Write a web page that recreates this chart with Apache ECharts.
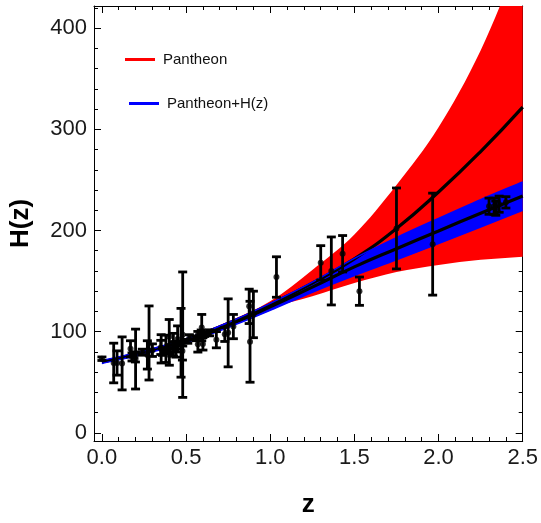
<!DOCTYPE html>
<html>
<head>
<meta charset="utf-8">
<script src="https://cdn.jsdelivr.net/npm/echarts@6/dist/echarts.min.js"></script>
<style>
html,body{margin:0;padding:0;background:#fff;}
#chart{width:541px;height:523px;}
</style>
</head>
<body>
<div id="chart"></div>
<script>
// ---- axis ticks ----
const xMajorTicks = [0, 0.5, 1.0, 1.5, 2.0, 2.5];
const xMinorTicks = [0.1,0.2,0.3,0.4,0.6,0.7,0.8,0.9,1.1,1.2,1.3,1.4,1.6,1.7,1.8,1.9,2.1,2.2,2.3,2.4];
const yMajorTicks = [0, 100, 200, 300, 400];
const yMinorTicks = [20,40,60,80,120,140,160,180,220,240,260,280,320,340,360,380,420];

// ---- model curves ----
const zGrid         = [0, 0.25, 0.5, 0.75, 1.0, 1.25, 1.5, 1.75, 2.0, 2.25, 2.5];
const pantheonMean  = [70, 80, 92, 108, 127, 148, 172, 202, 238, 278, 322];
const pantheonUpper = [70, 80.5, 93.5, 110, 130, 161, 196, 245, 302, 378, 477];
const pantheonLower = [70, 79.5, 90.5, 106, 123, 135, 148, 159, 166, 171, 174];
const jointMean     = [70, 79.5, 91, 106.5, 124.5, 144, 164, 182, 199.5, 217, 234];
const jointUpper    = [71.5, 81, 93, 109, 128, 149, 172.5, 193, 212, 230.5, 248];
const jointLower    = [68.5, 78, 89, 104, 121, 139, 155.5, 171, 187, 203.5, 220];

// ---- H(z) measurements ----
const hzZ   = [0, 0.07, 0.09, 0.12, 0.17, 0.179, 0.199, 0.2, 0.24, 0.27, 0.28, 0.3, 0.35, 0.352, 0.36, 0.38, 0.3802, 0.4, 0.4, 0.4004, 0.4247, 0.43, 0.44, 0.44, 0.4497, 0.47, 0.4783, 0.48, 0.48, 0.51, 0.52, 0.56, 0.57, 0.57, 0.59, 0.593, 0.6, 0.61, 0.64, 0.68, 0.73, 0.75, 0.781, 0.875, 0.88, 0.9, 1.037, 1.3, 1.363, 1.43, 1.53, 1.75, 1.965, 2.3, 2.33, 2.34, 2.36, 2.4];
const hzH   = [73.24, 69, 69, 68.6, 83, 75, 75, 72.9, 79.69, 77, 88.8, 81.7, 84.4, 83, 79.93, 81.5, 83, 95, 82.04, 77, 87.1, 86.45, 82.6, 84.81, 92.8, 89, 80.9, 97, 87.79, 90.4, 94.35, 93.34, 87.6, 96.8, 98.48, 104, 87.9, 97.3, 98.82, 92, 97.3, 98.8, 105, 125, 90, 117, 154, 168, 160, 177, 140, 202, 186.5, 224, 224, 222, 226, 227.8];
const hzErr = [1.74, 19.6, 12, 26.2, 8, 4, 5, 29.6, 2.99, 14, 36.6, 6.22, 7, 14, 3.39, 1.9, 13.5, 17, 2.03, 10.2, 11.2, 3.68, 7.8, 1.83, 12.9, 34, 9, 62, 2.03, 1.9, 2.64, 2.3, 7.8, 3.4, 3.18, 13, 6.1, 2.1, 2.98, 8, 7, 33.6, 12, 17, 40, 23, 20, 17, 33.6, 18, 14, 40, 50.4, 8, 8, 7, 8, 5.61];

const X_MIN = -0.047, X_MAX = 2.5, Y_MIN = -8.1, Y_MAX = 421.9;
const FONT = "'Liberation Sans', Arial, sans-serif";

const pairs = (xs, ys) => xs.map((x, i) => [x, ys[i]]);

// smooth cubic path segments through pixel points
function curveSegs(p) {
  let s = '';
  const n = p.length;
  const tan = i => {
    const a = p[Math.max(0, i - 1)], b = p[Math.min(n - 1, i + 1)];
    const k = (i === 0 || i === n - 1) ? 1 : 0.5;
    return [(b[0] - a[0]) * k, (b[1] - a[1]) * k];
  };
  for (let i = 0; i < n - 1; i++) {
    const m0 = tan(i), m1 = tan(i + 1);
    const c1 = [p[i][0] + m0[0] / 3, p[i][1] + m0[1] / 3];
    const c2 = [p[i + 1][0] - m1[0] / 3, p[i + 1][1] - m1[1] / 3];
    s += ' C' + c1[0] + ' ' + c1[1] + ' ' + c2[0] + ' ' + c2[1] + ' ' + p[i + 1][0] + ' ' + p[i + 1][1];
  }
  return s;
}
function bandSeries(name, lowArr, upArr, color, z) {
  return {
    name: name, type: 'custom', z: z, silent: true, clip: true,
    itemStyle: {color: color},
    data: zGrid.map((zz, i) => [zz, lowArr[i], upArr[i]]),
    encode: {x: 0, y: [1, 2]},
    renderItem: function (params, api) {
      if (params.dataIndex !== 0) return null;
      const up = zGrid.map((zz, i) => api.coord([zz, upArr[i]]));
      const lo = zGrid.map((zz, i) => api.coord([zz, lowArr[i]])).reverse();
      const d = 'M' + up[0][0] + ' ' + up[0][1] + curveSegs(up) +
        ' L' + lo[0][0] + ' ' + lo[0][1] + curveSegs(lo) + ' Z';
      return {type: 'path', shape: {pathData: d}, style: {fill: color, stroke: null}};
    }
  };
}
function edgeSeries(name, arrs, color, width, z) {
  return {
    name: name, type: 'custom', z: z, silent: true, clip: true,
    data: zGrid.map((zz, i) => [zz].concat(arrs.map(a => a[i]))),
    encode: {x: 0, y: arrs.map((a, k) => k + 1)},
    renderItem: function (params, api) {
      if (params.dataIndex !== 0) return null;
      return {type: 'group', children: arrs.map(a => {
        const pts = zGrid.map((zz, i) => api.coord([zz, a[i]]));
        return {type: 'path', shape: {pathData: 'M' + pts[0][0] + ' ' + pts[0][1] + curveSegs(pts)},
          style: {fill: null, stroke: color, lineWidth: width}};
      })};
    }
  };
}

function makeX(pos, ticks, len, showLine, showLabel, extra) {
  return Object.assign({
    type: 'value', position: pos, min: X_MIN, max: X_MAX,
    axisLine: {show: showLine, onZero: false, lineStyle: {color: '#000', width: 1}},
    axisTick: {show: true, inside: true, length: len, customValues: ticks, lineStyle: {color: '#000', width: 1}},
    axisLabel: showLabel ? {show: true, customValues: ticks, margin: 6, fontSize: 22, color: '#1a1a1a', fontFamily: FONT,
      formatter: v => Number(v).toFixed(1)} : {show: false},
    splitLine: {show: false}
  }, extra || {});
}
function makeY(pos, ticks, len, showLine, showLabel, extra) {
  return Object.assign({
    type: 'value', position: pos, min: Y_MIN, max: Y_MAX,
    axisLine: {show: showLine, onZero: false, lineStyle: {color: '#000', width: 1}},
    axisTick: {show: true, inside: true, length: len, customValues: ticks, lineStyle: {color: '#000', width: 1}},
    axisLabel: showLabel ? {show: true, customValues: ticks, margin: 7, fontSize: 22, color: '#1a1a1a', fontFamily: FONT,
      formatter: v => String(Math.round(v))} : {show: false},
    splitLine: {show: false}
  }, extra || {});
}

const chart = echarts.init(document.getElementById('chart'), null, {renderer: 'canvas'});
const option = {
  animation: false,
  backgroundColor: '#fff',
  grid: {left: 93, right: 15, top: 6, bottom: 78, containLabel: false},
  legend: [
    {left: 125, top: 52, padding: 0, orient: 'vertical', icon: 'rect', itemWidth: 30, itemHeight: 3,
     textStyle: {fontSize: 15, color: '#111', fontFamily: FONT, padding: [0, 0, 0, 3]},
     data: [{name: 'Pantheon', itemStyle: {color: '#ff0000', opacity: 1}}], selectedMode: false},
    {left: 129, top: 96, padding: 0, orient: 'vertical', icon: 'rect', itemWidth: 30, itemHeight: 3,
     textStyle: {fontSize: 15, color: '#111', fontFamily: FONT, padding: [0, 0, 0, 3]},
     data: [{name: 'Pantheon+H(z)', itemStyle: {color: '#0000ff', opacity: 1}}], selectedMode: false}
  ],
  xAxis: [
    makeX('bottom', xMajorTicks, 7, true, true, {name: 'z', nameLocation: 'middle', nameGap: 51,
      nameTextStyle: {fontSize: 26, fontWeight: 'bold', color: '#000', fontFamily: FONT}}),
    makeX('bottom', xMinorTicks, 4, false, false),
    makeX('top', xMajorTicks, 7, true, false),
    makeX('top', xMinorTicks, 4, false, false)
  ],
  yAxis: [
    makeY('left', yMajorTicks, 7, true, true, {name: 'H(z)', nameLocation: 'middle', nameGap: 60,
      nameTextStyle: {fontSize: 26, fontWeight: 'bold', color: '#000', fontFamily: FONT}}),
    makeY('left', yMinorTicks, 4, false, false),
    makeY('right', yMajorTicks, 7, true, false),
    makeY('right', yMinorTicks, 4, false, false)
  ],
  series: [
    bandSeries('Pantheon', pantheonLower, pantheonUpper, '#ff0000', 1),
    bandSeries('Pantheon+H(z)', jointLower, jointUpper, '#0000ff', 2),
    {name: 'pantheonFit', type: 'line', data: pairs(zGrid, pantheonMean), smooth: true, symbol: 'none',
     lineStyle: {color: '#000', width: 3.2}, silent: true, z: 3},
    {name: 'jointFit', type: 'line', data: pairs(zGrid, jointMean), smooth: true, symbol: 'none',
     lineStyle: {color: '#000', width: 3.2}, silent: true, z: 3},
    edgeSeries('jointEdges', [jointUpper, jointLower], '#0000ff', 1.5, 4),
    {name: 'errors', type: 'custom', z: 5, silent: true,
     data: hzZ.map((zz, i) => [zz, hzH[i], hzErr[i]]),
     encode: {x: 0, y: 1},
     renderItem: function (params, api) {
       const zz = api.value(0), h = api.value(1), e = api.value(2);
       const top = api.coord([zz, h + e]);
       const bot = api.coord([zz, h - e]);
       const cw = 4.5;
       const st = {stroke: '#000', lineWidth: 2.8};
       return {type: 'group', children: [
         {type: 'line', shape: {x1: top[0], y1: top[1], x2: bot[0], y2: bot[1]}, style: st},
         {type: 'line', shape: {x1: top[0] - cw, y1: top[1], x2: top[0] + cw, y2: top[1]}, style: st},
         {type: 'line', shape: {x1: bot[0] - cw, y1: bot[1], x2: bot[0] + cw, y2: bot[1]}, style: st}
       ]};
     }},
    {name: 'points', type: 'scatter', z: 6, silent: true, symbol: 'circle', symbolSize: 6,
     itemStyle: {color: '#000'}, data: pairs(hzZ, hzH)}
  ]
};
chart.setOption(option);
</script>
</body>
</html>
